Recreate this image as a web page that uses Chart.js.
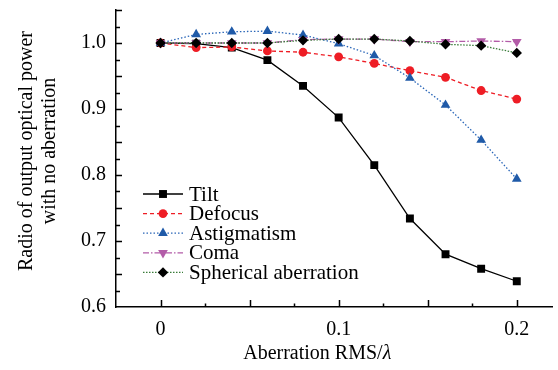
<!DOCTYPE html>
<html>
<head>
<meta charset="utf-8">
<script src="https://cdn.jsdelivr.net/npm/chart.js@4.4.1/dist/chart.umd.min.js"></script>
<style>
  html, body { margin: 0; padding: 0; background: #fff; }
  #box { width: 558px; height: 370px; }
</style>
</head>
<body>
<div id="box"><canvas id="power"></canvas></div>
<script>
// aberration RMS (in wavelengths)
const rms = [0, 0.02, 0.04, 0.06, 0.08, 0.1, 0.12, 0.14, 0.16, 0.18, 0.2];

// power ratio for each aberration type
const tilt        = [1.000, 0.999, 0.993, 0.974, 0.935, 0.887, 0.815, 0.734, 0.680, 0.658, 0.639];
const defocus     = [1.000, 0.993, 0.994, 0.988, 0.986, 0.979, 0.969, 0.958, 0.948, 0.928, 0.915];
const astigmatism = [1.000, 1.013, 1.017, 1.018, 1.012, 0.999, 0.981, 0.947, 0.906, 0.853, 0.794];
const coma        = [1.000, 1.000, 1.000, 1.000, 1.005, 1.006, 1.006, 1.002, 1.002, 1.003, 1.002];
const spherical   = [1.000, 1.000, 1.000, 1.000, 1.004, 1.006, 1.006, 1.003, 0.998, 0.996, 0.985];

const xTicks = [0, 0.1, 0.2];
const yTicks = [0.6, 0.7, 0.8, 0.9, 1.0];

const FONT = '"Liberation Serif", "Times New Roman", serif';
const FS = 20;

function pts(ys) {
  return rms.map((x, i) => ({ x: x, y: ys[i] }));
}

function serie(label, ys, color, lineColor, dash, style, radius, rot, order) {
  return {
    label: label,
    data: pts(ys),
    borderColor: lineColor,
    backgroundColor: color,
    pointBorderColor: color,
    pointBackgroundColor: color,
    borderWidth: 1.3,
    borderDash: dash,
    pointStyle: style,
    pointRadius: radius,
    pointRotation: rot,
    pointBorderWidth: 0,
    order: order
  };
}

const datasets = [
  serie('Tilt', tilt, '#000000', '#000000', [], 'rect', 5.6, 0, 4),
  serie('Defocus', defocus, '#ee1d25', '#ee1d25', [4, 3], 'circle', 4.4, 0, 3),
  serie('Astigmatism', astigmatism, '#1f5aa8', '#2a66b8', [1.5, 2], 'triangle', 5.6, 0, 2),
  serie('Coma', coma, '#b35ca8', '#b35ca8', [6, 2, 1.5, 2], 'triangle', 5.6, 180, 1),
  serie('Spherical aberration', spherical, '#000000', '#3a7d3a', [1.5, 1.5], 'rectRot', 5.2, 0, 0)
];

function isLabel(v, list) {
  return list.some(t => Math.abs(t - v) < 1e-6);
}

// tick positions every quarter of a labelled step
function quarterTicks(from, to, step) {
  const out = [];
  for (let k = 0; from + k * step <= to + 1e-9; k++) {
    out.push({ value: +(from + k * step).toFixed(4) });
  }
  return out;
}

// inward tick marks, axis titles and a legend inside the plot
const extras = {
  id: 'extras',
  afterDraw(chart) {
    const ctx = chart.ctx;
    const a = chart.chartArea;
    const xs = chart.scales.x, ys = chart.scales.y;
    ctx.save();
    ctx.strokeStyle = '#000';
    ctx.lineWidth = 1.5;
    ctx.beginPath();
    xs.ticks.forEach(t => {
      if (t.value <= xs.min + 1e-6) return;
      const px = Math.round(xs.getPixelForValue(t.value)) + 0.5;
      const big = Math.abs(Math.round(t.value / 0.05) * 0.05 - t.value) < 1e-6;
      const len = big ? 7 : 3.5;
      ctx.moveTo(px, a.bottom);
      ctx.lineTo(px, a.bottom - len);
    });
    ys.ticks.forEach(t => {
      if (t.value <= ys.min + 1e-6) return;
      const py = Math.round(ys.getPixelForValue(t.value)) + 0.5;
      const big = Math.abs(Math.round(t.value / 0.05) * 0.05 - t.value) < 1e-6;
      const len = big ? 6 : 4;
      ctx.moveTo(a.left, py);
      ctx.lineTo(a.left + len, py);
    });
    ctx.stroke();

    // x title with italic lambda
    ctx.fillStyle = '#000';
    ctx.textBaseline = 'middle';
    const cx = xs.getPixelForValue(0.088);
    const ty = 354;
    ctx.font = FS + 'px ' + FONT;
    const s1 = 'Aberration RMS/';
    const w1 = ctx.measureText(s1).width;
    ctx.font = 'italic ' + FS + 'px ' + FONT;
    const w2 = ctx.measureText('λ').width;
    const sx = cx - (w1 + w2) / 2;
    ctx.font = FS + 'px ' + FONT;
    ctx.textAlign = 'left';
    ctx.fillText(s1, sx, ty);
    ctx.font = 'italic ' + FS + 'px ' + FONT;
    ctx.fillText('λ', sx + w1, ty);

    // y title, two lines
    ctx.save();
    ctx.translate(27, 151);
    ctx.rotate(-Math.PI / 2);
    ctx.font = FS + 'px ' + FONT;
    ctx.textAlign = 'center';
    ctx.fillText('Radio of output optical power', 0, 0);
    ctx.fillText('with no aberration', 0, 23);
    ctx.restore();

    // legend
    const lx0 = a.left + 27, lx1 = a.left + 67, tx = a.left + 73;
    chart.data.datasets.forEach((d, i) => {
      const y = 194 + i * 19.6;
      ctx.save();
      ctx.strokeStyle = d.borderColor;
      ctx.lineWidth = d.borderWidth;
      ctx.setLineDash(d.borderDash);
      ctx.beginPath();
      ctx.moveTo(lx0, y);
      ctx.lineTo(lx1, y);
      ctx.stroke();
      ctx.restore();
      ctx.fillStyle = d.pointBackgroundColor;
      Chart.helpers.drawPoint(ctx, {
        pointStyle: d.pointStyle,
        radius: d.pointRadius,
        rotation: d.pointRotation,
        borderWidth: 0
      }, (lx0 + lx1) / 2, y);
      ctx.fillStyle = '#000';
      ctx.font = '21px ' + FONT;
      ctx.textAlign = 'left';
      ctx.textBaseline = 'middle';
      ctx.fillText(d.label, tx, y + 1);
    });
    ctx.restore();
  }
};

new Chart(document.getElementById('power'), {
  type: 'line',
  data: { datasets: datasets },
  options: {
    responsive: true,
    maintainAspectRatio: false,
    animation: false,
    layout: { padding: { left: 0, right: 2, top: 10, bottom: 0 } },
    plugins: {
      legend: { display: false },
      tooltip: { enabled: false }
    },
    scales: {
      x: {
        type: 'linear',
        min: -0.025,
        max: 0.22,
        border: { display: true, color: '#000', width: 1.5 },
        grid: { display: false, drawTicks: false },
        afterBuildTicks(s) { s.ticks = quarterTicks(-0.025, 0.2, 0.025); },
        afterFit(s) { s.height = 63; s.paddingLeft = 0; s.paddingRight = 0; },
        ticks: {
          autoSkip: false,
          maxRotation: 0,
          padding: 11,
          color: '#000',
          font: { family: FONT, size: FS },
          callback: v => isLabel(v, xTicks) ? (Math.abs(v) < 1e-9 ? '0' : v.toFixed(1)) : ''
        }
      },
      y: {
        min: 0.6,
        max: 1.05,
        border: { display: true, color: '#000', width: 1.5 },
        grid: { display: false, drawTicks: false },
        afterBuildTicks(s) { s.ticks = quarterTicks(0.6, 1.05, 0.025); },
        afterFit(s) { s.width = 116; s.paddingTop = 0; s.paddingBottom = 0; },
        ticks: {
          autoSkip: false,
          padding: 10,
          color: '#000',
          font: { family: FONT, size: FS },
          callback: v => isLabel(v, yTicks) ? v.toFixed(1) : ''
        }
      }
    }
  },
  plugins: [extras]
});
</script>
</body>
</html>
